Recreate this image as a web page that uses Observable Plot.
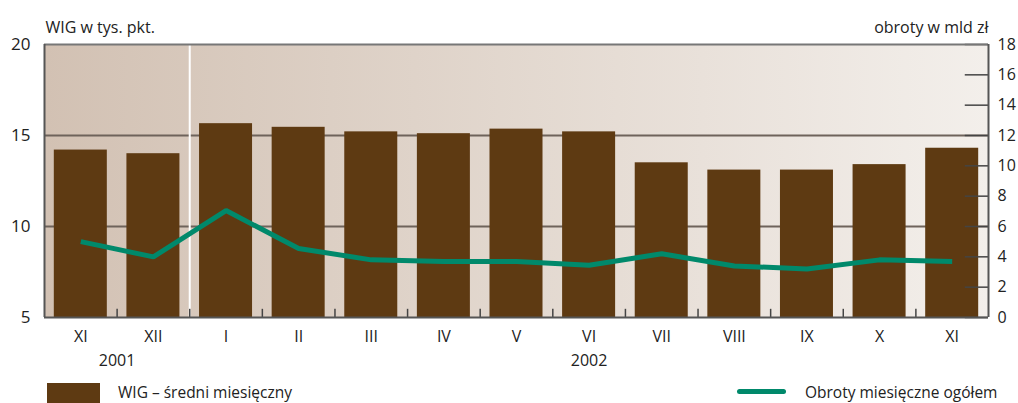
<!DOCTYPE html>
<html>
<head>
<meta charset="utf-8">
<script src="https://cdn.jsdelivr.net/npm/d3@7"></script>
<script src="https://cdn.jsdelivr.net/npm/@observablehq/plot@0.6"></script>
<style>
  body { margin: 0; background: #fff; font-family: "Open Sans", sans-serif; }
  #chart { position: relative; width: 1018px; height: 403px; overflow: hidden; }
  .legend { position: absolute; top: 380px; height: 23px; display: flex; align-items: center; font-size: 15.5px; color: #222; white-space: nowrap; }
</style>
</head>
<body>
<div id="chart"></div>
<script>
const months = ["XI","XII","I","II","III","IV","V","VI","VII","VIII","IX","X","XI"];
const years = ["2001","2002"];
const yearSpans = [[0,1],[2,12]];
const wig = [14.2, 14.0, 15.65, 15.45, 15.2, 15.1, 15.35, 15.2, 13.5, 13.1, 13.1, 13.4, 14.3];
const obroty = [5.0, 4.0, 7.05, 4.55, 3.8, 3.7, 3.7, 3.45, 4.2, 3.4, 3.2, 3.8, 3.7];
const leftTicks = [5, 10, 15, 20];
const rightTicks = [0, 2, 4, 6, 8, 10, 12, 14, 16, 18];
const gridTicks = [10, 15];

const toLeft = v => 5 + v * 15 / 18;
const idx = months.map((_, i) => i);
const bars = idx.map(i => ({i, m: months[i], v: wig[i], o: toLeft(obroty[i])}));
const bandHalf = 0.365;
const font = "'Open Sans', sans-serif";
const xMax = months.length - 0.5;

const plot = Plot.plot({
  width: 1018,
  height: 380,
  marginLeft: 44,
  marginRight: 30,
  marginTop: 44,
  marginBottom: 63,
  style: {fontFamily: font, fontSize: "15px", color: "#222", background: "transparent", overflow: "visible"},
  x: {type: "linear", domain: [-0.5, xMax], axis: null},
  y: {domain: [5, 20], axis: null},
  marks: [
    Plot.frame({fill: "url(#bgGrad)", stroke: null}),
    Plot.ruleY(gridTicks, {stroke: "#6e635b", strokeWidth: 2}),
    Plot.ruleX([1.5], {stroke: "#ffffff", strokeWidth: 2}),
    Plot.rectY(bars, {x1: d => d.i - bandHalf, x2: d => d.i + bandHalf, y1: 5, y2: "v", fill: "#5e3a12"}),
    Plot.line(bars, {x: "i", y: "o", stroke: "#00896b", strokeWidth: 5, strokeLinejoin: "miter", strokeLinecap: "butt"}),
    // right axis inner ticks
    Plot.ruleY(rightTicks.map(toLeft), {x1: xMax - 0.32, x2: xMax, stroke: "#444", strokeWidth: 1.5}),
    // bottom inner ticks between months
    Plot.ruleX(idx.slice(0, -1).map(i => i + 0.5), {y1: 5, y2: 5.45, stroke: "#444", strokeWidth: 1.5}),
    // frame lines
    Plot.ruleY([20], {stroke: "#777", strokeWidth: 2}),
    Plot.ruleY([5], {stroke: "#555", strokeWidth: 2}),
    Plot.ruleX([-0.5], {stroke: "#555", strokeWidth: 2}),
    Plot.ruleX([xMax], {stroke: "#555", strokeWidth: 2}),
    // left axis labels
    Plot.text(leftTicks, {x: -0.5, y: d => d, text: d => String(d), dx: -14, textAnchor: "end", fontSize: 17, fill: "#222"}),
    // right axis labels
    Plot.text(rightTicks, {x: xMax, y: d => toLeft(d), text: d => String(d), dx: 9, textAnchor: "start", fontSize: 16, fill: "#222"}),
    // month labels
    Plot.text(bars, {x: "i", y: 5, text: "m", dy: 19, fontSize: 16, fill: "#222"}),
    // year labels
    Plot.text(years.map((y, k) => ({y, c: (yearSpans[k][0] + yearSpans[k][1]) / 2})), {x: "c", y: 5, text: "y", dy: 43, fontSize: 16, fill: "#222"}),
    // axis titles
    Plot.text(["WIG w tys. pkt."], {frameAnchor: "top-left", dy: -23, dx: 1, textAnchor: "start", fontSize: 16, fill: "#222"}),
    Plot.text(["obroty w mld zł"], {frameAnchor: "top-right", dy: -23, dx: 0, textAnchor: "end", fontSize: 16, fill: "#222"})
  ]
});

const svg = d3.select(plot);
const defs = svg.insert("defs", ":first-child");
const g = defs.append("linearGradient").attr("id", "bgGrad").attr("x1", "0%").attr("x2", "100%").attr("y1", "0%").attr("y2", "0%");
g.append("stop").attr("offset", "0%").attr("stop-color", "#d2c1b3");
g.append("stop").attr("offset", "100%").attr("stop-color", "#f3efeb");

const chart = document.getElementById("chart");
chart.appendChild(plot);

const leg1 = document.createElement("div");
leg1.className = "legend";
leg1.style.left = "47px";
leg1.innerHTML = '<span style="display:inline-block;width:53px;height:23px;background:#5e3a12;margin-right:18px;margin-top:6px"></span><span>WIG – średni miesięczny</span>';
chart.appendChild(leg1);

const leg2 = document.createElement("div");
leg2.className = "legend";
leg2.style.left = "737px";
leg2.innerHTML = '<span style="display:inline-block;width:49px;height:5px;border-radius:3px;background:#00896b;margin-right:19px"></span><span>Obroty miesięczne ogółem</span>';
chart.appendChild(leg2);
</script>
</body>
</html>
